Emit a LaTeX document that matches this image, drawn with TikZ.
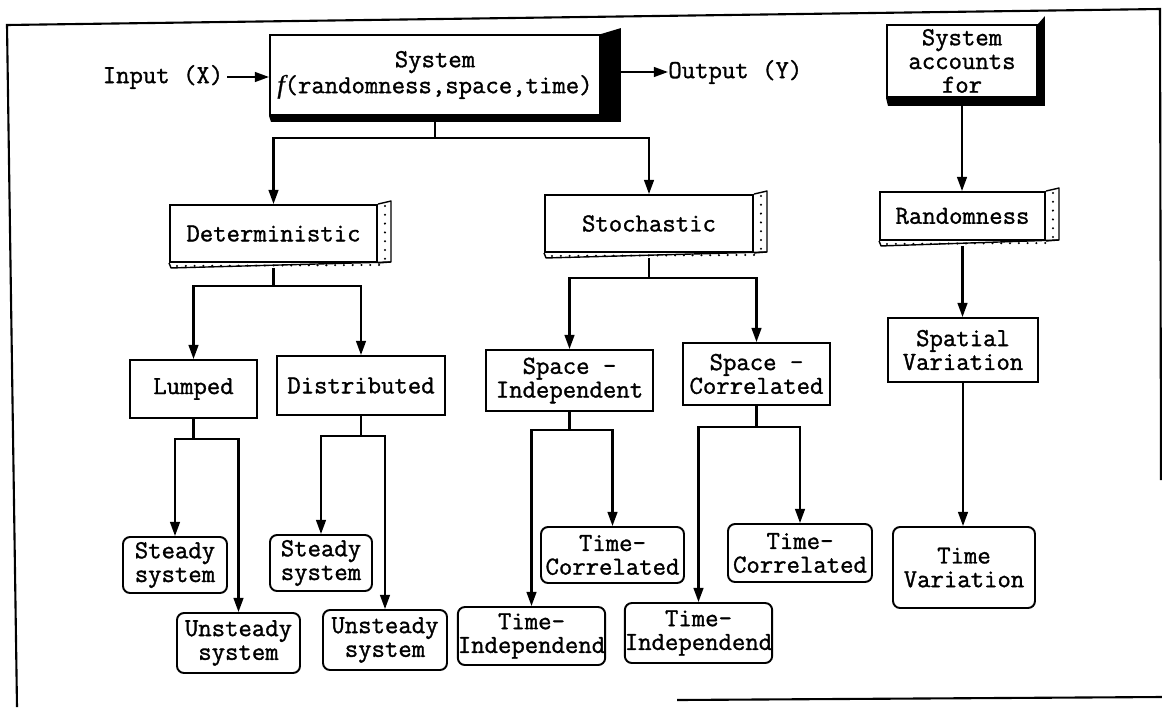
\documentclass[tikz,border=0pt]{standalone}
\usepackage{fontspec}
\setmainfont{Latin Modern Mono}[FakeBold=1.2]
\newfontfamily\funcfont{Liberation Serif}[FakeBold=1]
\usetikzlibrary{arrows.meta,calc}

\tikzset{
  lbl/.style={font=\fontsize{14.8}{13.5}\selectfont, align=center, inner sep=0pt},
  % box given by its top-left and bottom-right corners (picture units)
  bx/.style n args={4}{at={({(#1+#3)/2},{(#2+#4)/2})},
    minimum width={(#3-#1)*0.02cm}, minimum height={(#4-#2)*0.02cm}},
  plainbox/.style={lbl, draw, line width=1.1pt},
  roundbox/.style={plainbox, rounded corners=4pt},
  arr/.style={line width=1.2pt, -{Triangle[length=8pt,width=5.5pt]}},
  link/.style={line width=1.2pt},
  face/.style={line width=0.8pt, line join=round},
  grain/.style={line width=1.3pt, line cap=round, dash pattern=on 0pt off 5pt},
  frame/.style={line width=1.2pt}
}

% side and bottom faces of a slab box, with a stippled surface
\newcommand\slabfaces[1]{%
  \draw[face] (#1.north east) -- ($(#1.north east)+(13,-3)$)
    -- ($(#1.south east)+(13,-1)$) -- ($(#1.south west)+(2,5)$) -- (#1.south west);
  \draw[face] (#1.south east) -- ($(#1.south east)+(13,-1)$);
  \draw[grain] ($(#1.north east)+(7,2)$) -- ($(#1.south east)+(7,-2)$);
  \draw[grain] ($(#1.south west)+(8,3)$) -- ($(#1.south east)+(2,2)$);
}

% black extruded shadow of a solid box
\newcommand\blockshadow[3]{%
  \fill (#1.north east) -- ($(#1.north east)+(#2,-#3)$)
    -- ($(#1.south east)+(#2,#3)$) -- ($(#1.south west)+(2,#3)$)
    -- (#1.south west) -- (#1.south east) -- cycle;
}

\begin{document}
\begin{tikzpicture}[x=0.02cm, y=-0.02cm]
\useasboundingbox (0,0) rectangle (1162,707);

% page frame
\draw[frame] (17,707) -- (7,25) -- (1160,9) -- (1161,480);
\draw[frame] (677,700) -- (1162,697);

% top level
\node[plainbox, bx={270}{35}{600}{115}] (sys)
  {System\\{\funcfont\itshape f}(randomness,space,time)};
\blockshadow{sys}{20}{6}
\node[lbl] (in) at (163,77) {Input (X)};
\node[lbl, anchor=west] (out) at (668,72) {Output (Y)};
\coordinate (sysR) at ($(sys.east)+(20,-3)$);
\draw[arr, shorten <=2pt] (in.east) -- (sys.west |- in.east);
\draw[arr] (sysR) -- (out.west);

\node[plainbox, bx={887}{25}{1037}{97}] (acc) {System\\accounts\\for};
\blockshadow{acc}{7}{8}

% second level
\node[plainbox, bx={170}{205}{377}{262}] (det) {Deterministic};
\slabfaces{det}
\node[plainbox, bx={545}{195}{753}{252}] (sto) {Stochastic};
\slabfaces{sto}
\node[plainbox, bx={880}{192}{1045}{240}] (rnd) {Randomness};
\slabfaces{rnd}

\coordinate (j1) at ($(sys.south)+(0,22)$);
\draw[link] (sys.south) -- (j1);
\draw[arr] (j1) -| (det.north);
\draw[arr] (j1) -| (sto.north);
\draw[arr] (acc.south) -- (acc.south |- rnd.north);

% third level
\node[plainbox, bx={130}{360}{257}{418}] (lum) {Lumped};
\node[plainbox, bx={277}{356}{445}{415}] (dis) {Distributed};
\node[plainbox, bx={486}{350}{653}{411}] (spi) {Space -\\Independent};
\node[plainbox, bx={683}{343}{830}{405}] (spc) {Space -\\Correlated};
\node[plainbox, bx={888}{318}{1038}{382}] (spv) {Spatial\\Variation};

\coordinate (j2) at ($(det.south)+(0,23)$);
\draw[link] ($(det.south)+(0,5)$) -- (j2);
\draw[arr] (j2) -| (lum.north);
\draw[arr] (j2) -| (dis.north);

\coordinate (j3) at ($(sto.south)+(0,25)$);
\draw[link] ($(sto.south)+(0,5)$) -- (j3);
\draw[arr] (j3) -| (spi.north);
\draw[arr] (j3) -| (spc.north);

\draw[arr] ($(rnd.south)+(0,5)$) -- (rnd.south |- spv.north);

% leaves
\node[roundbox, bx={123}{537}{227}{593}] (ls) {Steady\\system};
\node[roundbox, bx={177}{613}{300}{673}] (lu) {Unsteady\\system};
\node[roundbox, bx={270}{535}{372}{591}] (ds) {Steady\\system};
\node[roundbox, bx={323}{610}{447}{670}] (du) {Unsteady\\system};
\node[roundbox, bx={541}{527}{684}{583}] (itc) {Time-\\Correlated};
\node[roundbox, bx={460}{607}{603}{665}] (iti) {Time-\\Independend};
\node[roundbox, bx={728}{524}{872}{582}] (ctc) {Time-\\Correlated};
\node[roundbox, bx={626}{603}{771}{663}] (cti) {Time-\\Independend};
\node[roundbox, bx={893}{527}{1035}{608}] (tv) {Time\\Variation};

\coordinate (j4) at ($(lum.south)+(0,20)$);
\draw[link] (lum.south) -- (j4);
\draw[arr] (j4) -| (ls.north);
\draw[arr] (j4) -| (lu.north);

\coordinate (j5) at ($(dis.south)+(0,20)$);
\draw[link] (dis.south) -- (j5);
\draw[arr] (j5) -| (ds.north);
\draw[arr] (j5) -| (du.north);

\coordinate (j6) at ($(spi.south)+(0,18)$);
\draw[link] (spi.south) -- (j6);
\draw[arr] (j6) -| (iti.north);
\draw[arr] (j6) -| (itc.north);

\coordinate (j7) at ($(spc.south)+(0,21)$);
\draw[link] (spc.south) -- (j7);
\draw[arr] (j7) -| (cti.north);
\draw[arr] (j7) -| (ctc.north);

\draw[arr] (spv.south) -- (spv.south |- tv.north);
\end{tikzpicture}
\end{document}
